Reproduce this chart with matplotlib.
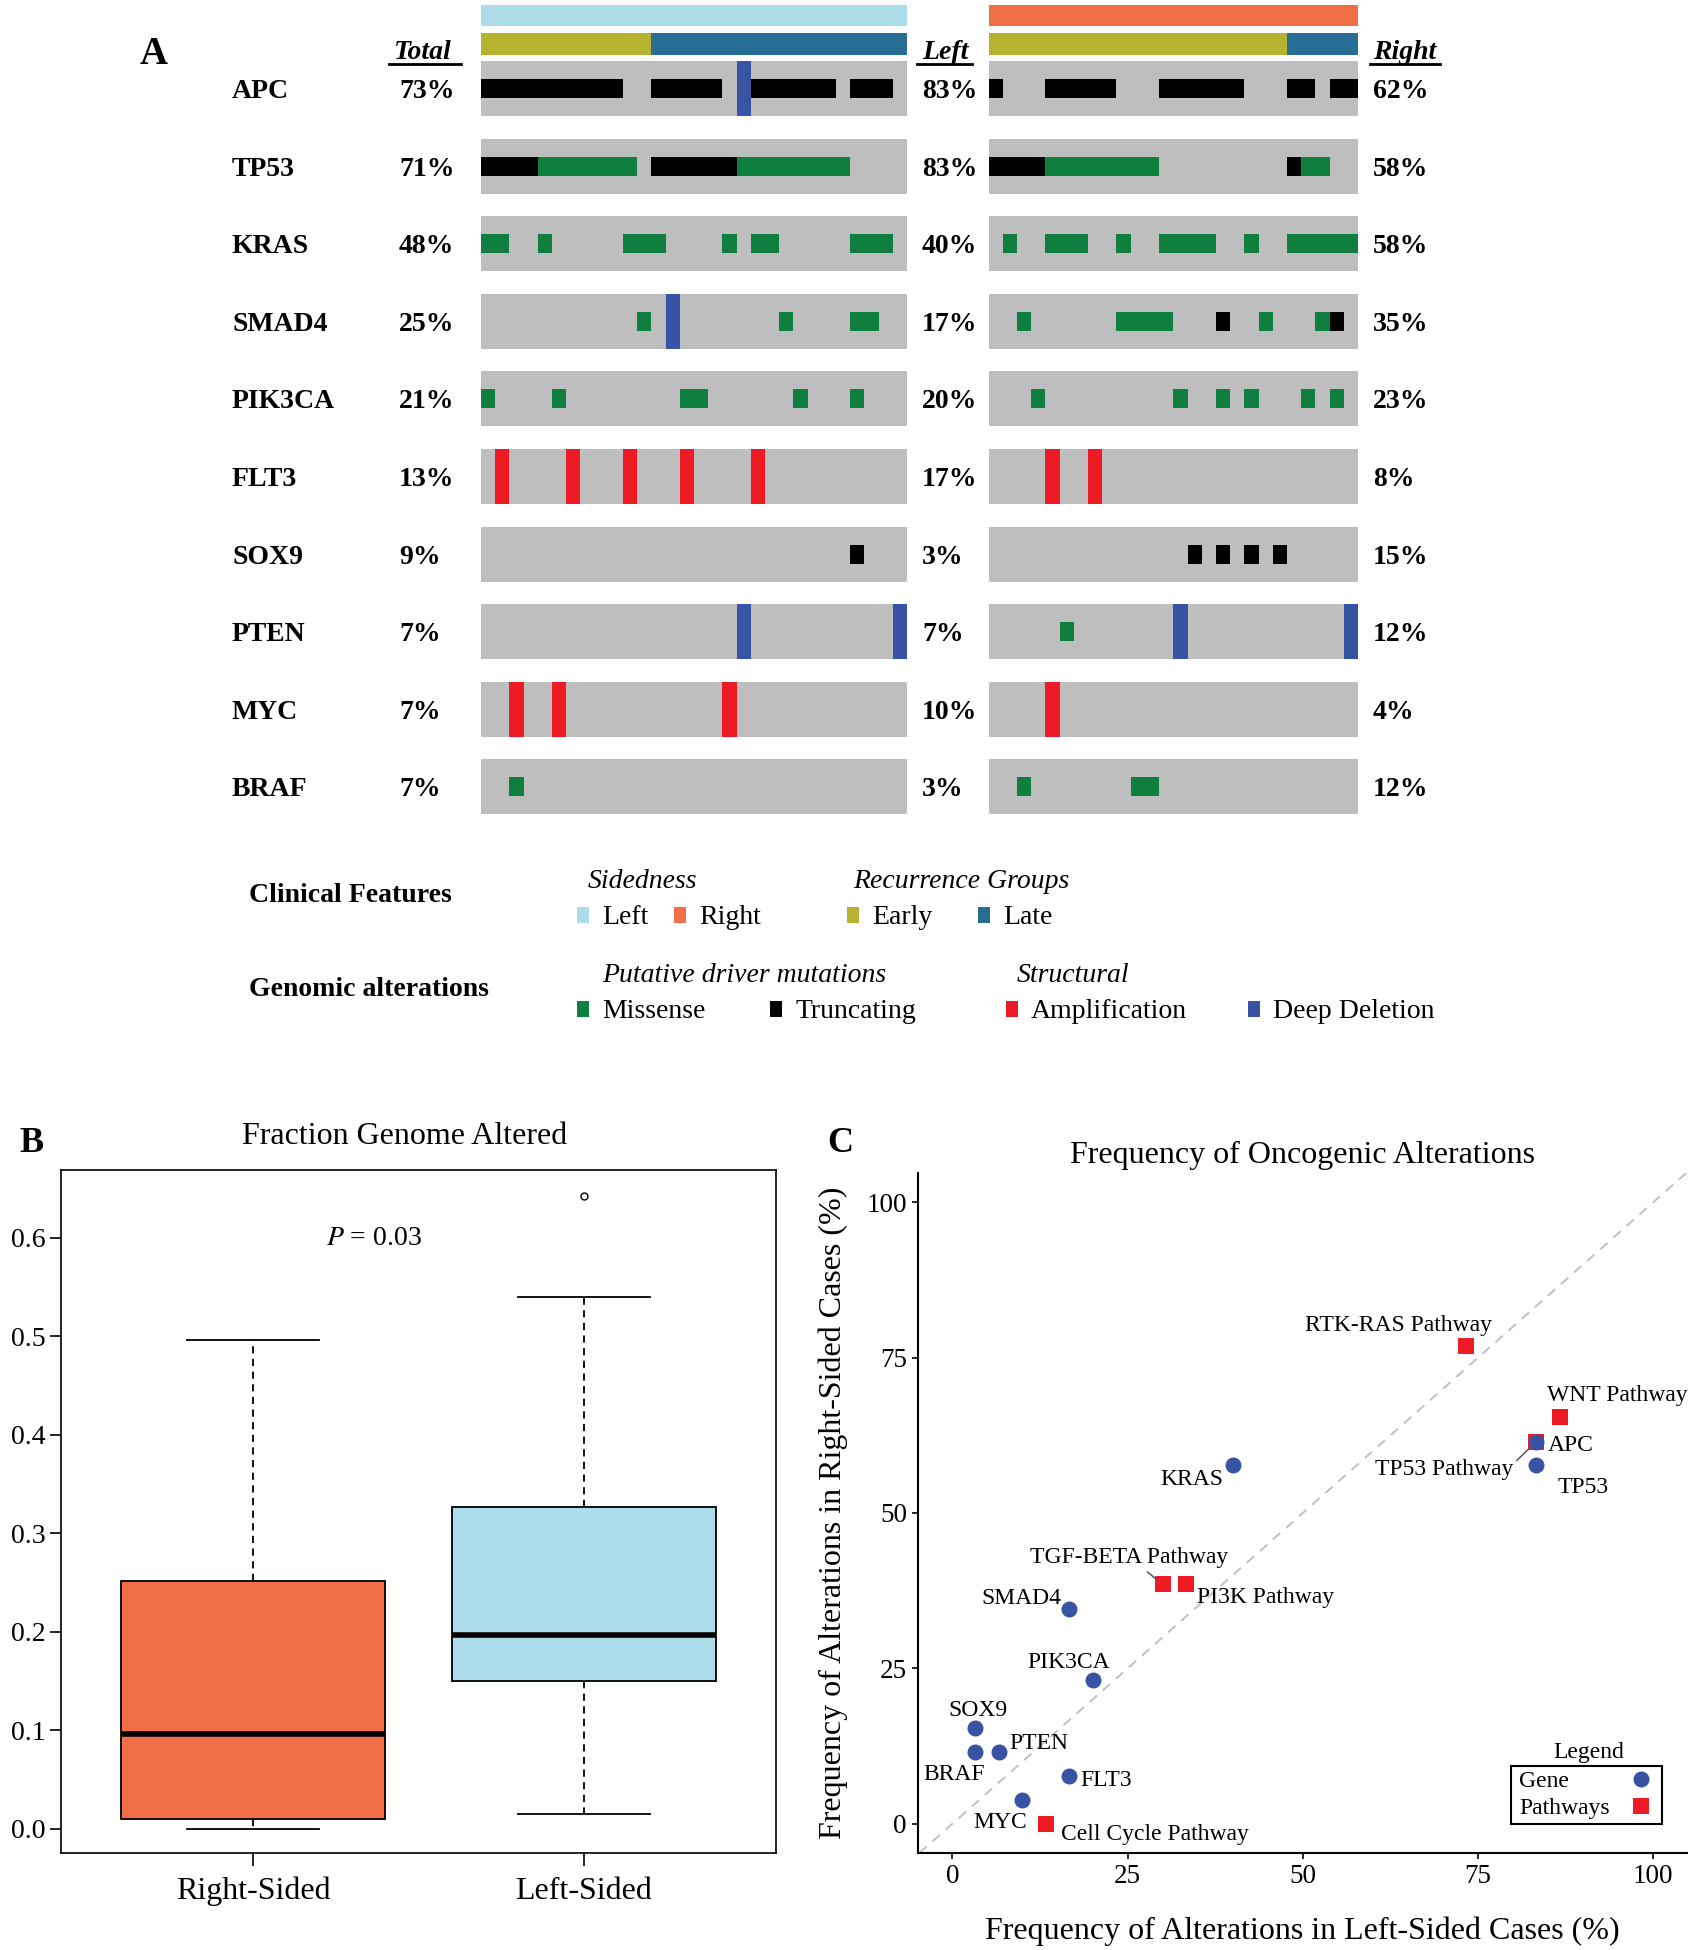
import numpy as np
import matplotlib.pyplot as plt
from matplotlib.lines import Line2D
from matplotlib.patches import Rectangle

plt.rcParams['font.family'] = ['Liberation Serif', 'DejaVu Serif']
plt.rcParams['mathtext.fontset'] = 'stix'

# ---------------- data ----------------
genes = ['APC', 'TP53', 'KRAS', 'SMAD4', 'PIK3CA', 'FLT3', 'SOX9', 'PTEN', 'MYC', 'BRAF']
total_pct = [73, 71, 48, 25, 21, 13, 9, 7, 7, 7]
left_pct = [83, 83, 40, 17, 20, 17, 3, 7, 10, 3]
right_pct = [62, 58, 58, 35, 23, 8, 15, 12, 4, 12]

# one character per patient: M missense, T truncating, A amplification, D deep deletion
left_calls = [
    'TTTTTTTTTT..TTTTT.DTTTTTT.TTT.',
    'TTTTMMMMMMM.TTTTTTMMMMMMMM....',
    'MM..M.....MMM....M.MM.....MMM.',
    '...........M.D.......M....MM..',
    'M....M........MM......M...M...',
    '.A....A...A...A....A..........',
    '..........................T...',
    '..................D..........D',
    '..A..A...........A............',
    '..M...........................',
]
right_calls = [
    'T...TTTTT...TTTTTT...TT.TT',
    'TTTTMMMMMMMM.........TMM..',
    '.M..MMM..M..MMMM..M..MMMMM',
    '..M......MMMM...T..M...MT.',
    '...M.........M..M.M...M.M.',
    '....A..A..................',
    '..............T.T.T.T.....',
    '.....M.......D...........D',
    '....A.....................',
    '..M.......MM..............',
]
left_recurrence = 'E' * 12 + 'L' * 18
right_recurrence = 'E' * 21 + 'L' * 5

fga_groups = ['Right-Sided', 'Left-Sided']
fga_whislo = [0.0, 0.015]
fga_q1 = [0.010, 0.150]
fga_med = [0.096, 0.197]
fga_q3 = [0.252, 0.327]
fga_whishi = [0.496, 0.540]
fga_fliers = [[], [0.643]]

freq_labels = ['APC', 'TP53', 'KRAS', 'SMAD4', 'PIK3CA', 'FLT3', 'SOX9', 'PTEN', 'MYC', 'BRAF',
               'RTK-RAS Pathway', 'WNT Pathway', 'TP53 Pathway', 'TGF-BETA Pathway',
               'PI3K Pathway', 'Cell Cycle Pathway']
freq_left = [83.3, 83.3, 40.0, 16.7, 20.0, 16.7, 3.3, 6.7, 10.0, 3.3,
             73.3, 86.7, 83.3, 30.0, 33.3, 13.3]
freq_right = [61.5, 57.7, 57.7, 34.6, 23.1, 7.7, 15.4, 11.5, 3.8, 11.5,
              76.9, 65.4, 61.5, 38.5, 38.5, 0.0]
freq_kind = ['Gene'] * 10 + ['Pathways'] * 6

# ---------------- style ----------------
W, H = 1695, 1950
GRAY = '#BEBEBE'
code_color = {'M': '#0E7F3E', 'T': '#000000', 'A': '#ED1C24', 'D': '#3953A4'}
LEFT_C, RIGHT_C = '#ADDCEA', '#F26E47'
EARLY_C, LATE_C = '#B6B330', '#276D94'
PT_BLUE, PT_RED = '#3953A4', '#ED1C24'

fig = plt.figure(figsize=(W / 100, H / 100), dpi=100)


def ftext(x, y, s, **kw):
    kw.setdefault('va', 'center_baseline')
    return fig.text(x / W, 1 - y / H, s, **kw)


def underline(x0, x1, y):
    fig.add_artist(Line2D([x0 / W, x1 / W], [1 - y / H] * 2, color='black', lw=2))


# ---------------- panel A: oncoprint ----------------
ROW_H, MUT_H = 0.709, 0.245


def draw_oncoprint(ax, calls, recurrence, side_color):
    n = len(recurrence)
    cols = np.arange(n)
    for i, row in enumerate(calls):
        ax.bar(cols, ROW_H, bottom=i - ROW_H / 2, width=1, align='edge', color=GRAY, lw=0)
        for code in 'MTAD':
            xs = [j for j, c in enumerate(row) if c == code]
            if not xs:
                continue
            h = ROW_H if code in 'AD' else MUT_H
            ax.bar(xs, h, bottom=i - h / 2, width=1, align='edge',
                   color=code_color[code], lw=0)
    ax.bar(cols, 0.27, bottom=-0.941 - 0.135, width=1, align='edge', color=side_color, lw=0)
    rec_colors = [EARLY_C if r == 'E' else LATE_C for r in recurrence]
    ax.bar(cols, 0.283, bottom=-0.573 - 0.1415, width=1, align='edge', color=rec_colors, lw=0)
    ax.set_xlim(0, n)
    ax.set_ylim(9.3505, -1.1405)
    ax.axis('off')


axL = fig.add_axes([481 / W, 1 - 814 / H, 426 / W, 814 / H])
draw_oncoprint(axL, left_calls, left_recurrence, LEFT_C)
axR = fig.add_axes([988.6 / W, 1 - 814 / H, 369.4 / W, 814 / H])
draw_oncoprint(axR, right_calls, right_recurrence, RIGHT_C)

ftext(154, 50, 'A', fontsize=28, fontweight='bold', ha='center')
for x0, s in [(394, 'Total'), (922, 'Left'), (1373, 'Right')]:
    ftext(x0, 59, s, fontsize=20, fontweight='bold', fontstyle='italic', va='baseline')
underline(389, 461, 64)
underline(917, 972, 64)
underline(1370, 1440, 64)

for i, g in enumerate(genes):
    yc = 88.5 + 77.6 * i
    ftext(232, yc, g, fontsize=20, fontweight='bold')
    ftext(399, yc, f'{total_pct[i]}%', fontsize=20, fontweight='bold')
    ftext(922, yc, f'{left_pct[i]}%', fontsize=20, fontweight='bold')
    ftext(1373, yc, f'{right_pct[i]}%', fontsize=20, fontweight='bold')

# legend block
ftext(249, 893, 'Clinical Features', fontsize=20, fontweight='bold')
ftext(249, 986, 'Genomic alterations', fontsize=20, fontweight='bold')
ftext(588, 878, 'Sidedness', fontsize=20, fontstyle='italic')
ftext(853, 878, 'Recurrence Groups', fontsize=20, fontstyle='italic')
ftext(602, 972, 'Putative driver mutations', fontsize=20, fontstyle='italic')
ftext(1017, 972, 'Structural', fontsize=20, fontstyle='italic')

legend_keys = [
    (577, 914.5, LEFT_C, 'Left'), (674, 914.5, RIGHT_C, 'Right'),
    (847, 914.5, EARLY_C, 'Early'), (978, 914.5, LATE_C, 'Late'),
    (577, 1009, code_color['M'], 'Missense'), (770, 1009, code_color['T'], 'Truncating'),
    (1006, 1009, code_color['A'], 'Amplification'), (1248, 1009, code_color['D'], 'Deep Deletion'),
]
for kx, ky, c, s in legend_keys:
    fig.add_artist(Rectangle((kx / W, 1 - (ky + 8) / H), 12 / W, 16 / H,
                             transform=fig.transFigure, facecolor=c, edgecolor='none'))
    ftext(kx + 25, ky, s, fontsize=20)

# ---------------- panel B: boxplot ----------------
axB = fig.add_axes([61 / W, 1 - 1853 / H, 715 / W, 683 / H])
stats = [dict(label=fga_groups[k], whislo=fga_whislo[k], q1=fga_q1[k], med=fga_med[k],
              q3=fga_q3[k], whishi=fga_whishi[k], fliers=fga_fliers[k]) for k in range(2)]
bp = axB.bxp(stats, positions=[1, 2], widths=0.8, capwidths=0.4, patch_artist=True,
             boxprops=dict(lw=1.3, edgecolor='black'),
             medianprops=dict(color='black', lw=4, solid_capstyle='butt'),
             whiskerprops=dict(ls=(0, (4, 3)), lw=1.3, color='black'),
             capprops=dict(lw=1.3, color='black'),
             flierprops=dict(marker='o', mfc='none', mec='black', ms=5, mew=1))
for patch, c in zip(bp['boxes'], [RIGHT_C, LEFT_C]):
    patch.set_facecolor(c)
axB.set_xlim(0.42, 2.58)
axB.set_ylim(-0.0244, 0.669)
axB.set_yticks(np.arange(0, 0.61, 0.1))
axB.set_yticklabels([f'{v:.1f}' for v in np.arange(0, 0.61, 0.1)])
axB.tick_params(axis='y', labelsize=20, length=8, width=1.2, pad=3)
axB.tick_params(axis='x', labelsize=23, length=9, width=1.2, pad=8)
for sp in axB.spines.values():
    sp.set_linewidth(1.2)
axB.text(1.366, 0.603, r'$P$ = 0.03', fontsize=20, ha='center', va='center_baseline')
ftext(405, 1132.5, 'Fraction Genome Altered', fontsize=23, ha='center')
ftext(31, 1139, 'B', fontsize=26, fontweight='bold', ha='center')

# ---------------- panel C: scatter ----------------
axC = fig.add_axes([918 / W, 1 - 1853 / H, 769 / W, 680 / H])
axC.set_xlim(-4.9, 104.8)
axC.set_ylim(-4.7, 104.7)
axC.axline((0, 0), slope=1, ls=(0, (5, 4)), color='#C0C0C0', lw=1.4, zorder=1)
fl = np.array(freq_left)
fr = np.array(freq_right)
is_gene = np.array([k == 'Gene' for k in freq_kind])
axC.scatter(fl[~is_gene], fr[~is_gene], marker='s', s=12.2 ** 2, color=PT_RED, lw=0, zorder=3)
axC.scatter(fl[is_gene], fr[is_gene], marker='o', s=11.5 ** 2, color=PT_BLUE, lw=0, zorder=4)

label_offset = {
    'APC': (4.9, -0.3), 'TP53': (6.7, -3.2), 'KRAS': (-5.8, -1.9), 'SMAD4': (-6.8, 2.0),
    'PIK3CA': (-3.4, 3.2), 'FLT3': (5.2, -0.3), 'SOX9': (0.4, 3.2), 'PTEN': (5.6, 1.8),
    'MYC': (-3.1, -3.2), 'BRAF': (-3.1, -3.2), 'RTK-RAS Pathway': (-9.7, 3.6),
    'WNT Pathway': (8.1, 3.9), 'TP53 Pathway': (-13.2, -4.1),
    'TGF-BETA Pathway': (-4.8, 4.7), 'PI3K Pathway': (11.4, -1.7),
    'Cell Cycle Pathway': (15.6, -1.3),
}
connector = {'TP53 Pathway': (1.0, 0.75), 'TGF-BETA Pathway': (0.57, 0.0)}
for lab, x, y in zip(freq_labels, freq_left, freq_right):
    dx, dy = label_offset[lab]
    if lab in connector:
        axC.annotate(lab, xy=(x, y), xytext=(x + dx, y + dy), fontsize=17,
                     ha='center', va='center_baseline', zorder=5,
                     arrowprops=dict(arrowstyle='-', color='#555555', lw=1.1,
                                     relpos=connector[lab], shrinkA=1, shrinkB=5))
    else:
        axC.text(x + dx, y + dy, lab, fontsize=17, ha='center', va='center_baseline', zorder=5)

axC.spines['top'].set_visible(False)
axC.spines['right'].set_visible(False)
axC.spines['left'].set_linewidth(1.5)
axC.spines['bottom'].set_linewidth(1.5)
axC.set_xticks([0, 25, 50, 75, 100])
axC.set_yticks([0, 25, 50, 75, 100])
axC.tick_params(labelsize=19.5, length=4, width=1.2, pad=4)
axC.set_xlabel('Frequency of Alterations in Left-Sided Cases (%)', fontsize=23, labelpad=20)
axC.set_ylabel('Frequency of Alterations in Right-Sided Cases (%)', fontsize=23, labelpad=13)

# legend: labels on the left, keys on the right, title above the frame
axC.add_patch(Rectangle((0.771, 0.043), 0.196, 0.0855, transform=axC.transAxes,
                        facecolor='white', edgecolor='black', lw=1.5, zorder=6, clip_on=False))
for lab, yy, mk, sz, c in [('Gene', 0.1094, 'o', 11.5, PT_BLUE),
                           ('Pathways', 0.0696, 's', 12.2, PT_RED)]:
    axC.text(0.7815, yy, lab, transform=axC.transAxes, fontsize=17, ha='left',
             va='center_baseline', zorder=7)
    axC.scatter([0.9398], [yy], transform=axC.transAxes, marker=mk, s=sz ** 2,
                color=c, lw=0, zorder=7, clip_on=False)
axC.text(0.872, 0.151, 'Legend', transform=axC.transAxes, fontsize=17, ha='center',
         va='center_baseline')
ftext(1302, 1151.5, 'Frequency of Oncogenic Alterations', fontsize=23, ha='center')
ftext(840, 1139, 'C', fontsize=26, fontweight='bold', ha='center')

fig.savefig('out.png', dpi=100)
